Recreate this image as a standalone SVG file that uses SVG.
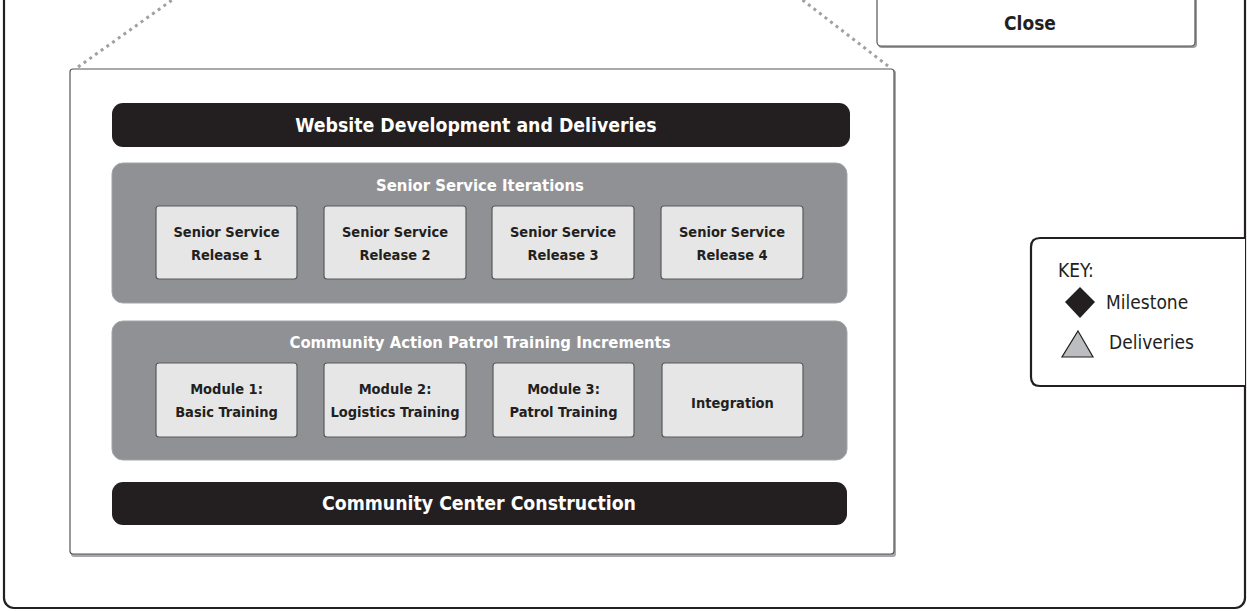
<svg xmlns="http://www.w3.org/2000/svg" width="1247" height="611" viewBox="0 0 1247 611">
<defs>
<style>
.t{font-family:"DejaVu Sans Condensed","DejaVu Sans",sans-serif;font-weight:bold;text-anchor:middle}
.bar{fill:#231f20}
.barT{fill:#fff;font-size:19.3px}
.grp{fill:#909194;stroke:#a4a5a8;stroke-width:1}
.grpT{fill:#fff;font-size:16.5px}
.box{fill:#e6e6e7;stroke:#5a5a5c;stroke-width:1.2}
.boxT{fill:#231f20;font-size:14.5px}
.key{font-family:"DejaVu Sans Condensed","DejaVu Sans",sans-serif;fill:#231f20;font-size:19px}
</style>
</defs>
<rect width="1247" height="611" fill="#fff"/>
<g id="frame">
<rect x="4" y="-30" width="1241" height="638" rx="10" fill="none" stroke="#231f20" stroke-width="2.2"/>
</g>
<g id="connectors">
<line x1="78" y1="67" x2="175" y2="-2" stroke="#a0a0a2" stroke-width="3" stroke-dasharray="3,4"/>
<line x1="888" y1="66" x2="800" y2="-2" stroke="#a0a0a2" stroke-width="3" stroke-dasharray="3,4"/>
</g>
<g id="close">
<rect x="878" y="-10" width="319" height="58" rx="4" fill="#9a9b9e"/>
<rect x="877" y="-10" width="318" height="56" rx="4" fill="#fff" stroke="#555" stroke-width="1.2"/>
<text class="t" x="1030" y="30" style="fill:#231f20;font-size:19px">Close</text>
</g>
<g id="panel">
<rect x="71" y="70" width="825" height="487" rx="3" fill="#a7a8ab"/>
<rect x="70" y="69" width="824" height="485" rx="3" fill="#fff" stroke="#555" stroke-width="1.2"/>
</g>
<g id="website">
<rect class="bar" x="112" y="103" width="738" height="44" rx="11"/>
<text class="t barT" x="476" y="132">Website Development and Deliveries</text>
</g>
<g id="senior">
<rect class="grp" x="112" y="163" width="735" height="140" rx="11"/>
<text class="t grpT" x="480" y="191">Senior Service Iterations</text>
</g>
<g id="ss1"><rect class="box" x="156" y="206" width="141" height="73" rx="3"/><text class="t boxT" x="226.5" y="237">Senior Service</text><text class="t boxT" x="226.5" y="260">Release 1</text></g>
<g id="ss2"><rect class="box" x="324" y="206" width="142" height="73" rx="3"/><text class="t boxT" x="395" y="237">Senior Service</text><text class="t boxT" x="395" y="260">Release 2</text></g>
<g id="ss3"><rect class="box" x="492" y="206" width="142" height="73" rx="3"/><text class="t boxT" x="563" y="237">Senior Service</text><text class="t boxT" x="563" y="260">Release 3</text></g>
<g id="ss4"><rect class="box" x="661" y="206" width="142" height="73" rx="3"/><text class="t boxT" x="732" y="237">Senior Service</text><text class="t boxT" x="732" y="260">Release 4</text></g>
<g id="cap">
<rect class="grp" x="112" y="321" width="735" height="139" rx="11"/>
<text class="t grpT" x="480" y="348">Community Action Patrol Training Increments</text>
</g>
<g id="m1"><rect class="box" x="156" y="363" width="141" height="74" rx="3"/><text class="t boxT" x="226.5" y="394">Module 1:</text><text class="t boxT" x="226.5" y="417">Basic Training</text></g>
<g id="m2"><rect class="box" x="324" y="363" width="142" height="74" rx="3"/><text class="t boxT" x="395" y="394">Module 2:</text><text class="t boxT" x="395" y="417">Logistics Training</text></g>
<g id="m3"><rect class="box" x="493" y="363" width="141" height="74" rx="3"/><text class="t boxT" x="563.5" y="394">Module 3:</text><text class="t boxT" x="563.5" y="417">Patrol Training</text></g>
<g id="integ"><rect class="box" x="662" y="363" width="141" height="74" rx="3"/><text class="t boxT" x="732.5" y="408">Integration</text></g>
<g id="ccc">
<rect class="bar" x="112" y="482" width="735" height="43" rx="11"/>
<text class="t barT" x="479" y="510">Community Center Construction</text>
</g>
<g id="keybox">
<path d="M1245,238 H1040 Q1031,238 1031,247 V377 Q1031,386 1040,386 H1245" fill="#fff" stroke="#231f20" stroke-width="2.2"/>
<text class="key" x="1058" y="277">KEY:</text>
<polygon points="1080,287 1095,302 1080,318 1065,302" fill="#231f20"/>
<text class="key" x="1106" y="309">Milestone</text>
<polygon points="1078,331 1093,357 1062,357" fill="#bcbdc0" stroke="#231f20" stroke-width="1.2"/>
<text class="key" x="1109" y="349">Deliveries</text>
</g>
</svg>
